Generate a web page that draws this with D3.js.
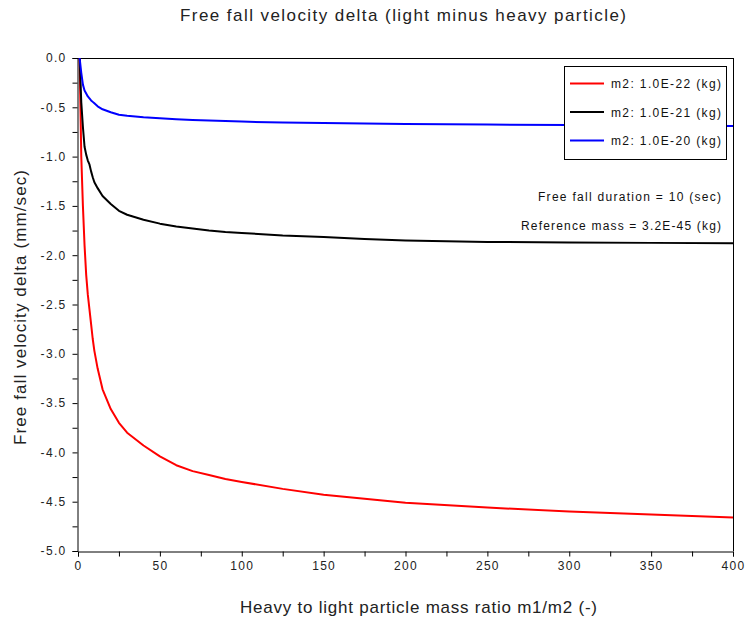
<!DOCTYPE html>
<html>
<head>
<meta charset="utf-8">
<script src="https://cdn.jsdelivr.net/npm/d3@7"></script>
<style>
  html, body { margin: 0; padding: 0; background: #fff; }
  svg { display: block; font-family: "Liberation Sans", Arial, sans-serif; }
</style>
</head>
<body>
<svg id="chart" width="745" height="627"></svg>
<script>
// ---- data ----
const ratio = [1, 2, 3, 4, 5, 6, 7, 8, 9, 10, 12, 15, 20, 25, 30, 40, 50, 60, 70, 80, 90, 100, 125, 150, 175, 200, 250, 300, 350, 400];
const deltaM22 = [0, -1.0, -1.5, -1.9, -2.2, -2.4, -2.55, -2.7, -2.85, -2.97, -3.15, -3.36, -3.56, -3.70, -3.80, -3.93, -4.04, -4.13, -4.19, -4.23, -4.27, -4.30, -4.37, -4.43, -4.47, -4.51, -4.56, -4.60, -4.63, -4.66];
const deltaM21 = [0, -0.45, -0.7, -0.9, -0.98, -1.04, -1.08, -1.15, -1.21, -1.26, -1.32, -1.40, -1.48, -1.55, -1.59, -1.64, -1.68, -1.71, -1.73, -1.75, -1.765, -1.775, -1.80, -1.815, -1.835, -1.85, -1.865, -1.87, -1.875, -1.88];
const deltaM20 = [0, -0.15, -0.27, -0.33, -0.36, -0.39, -0.41, -0.43, -0.445, -0.46, -0.49, -0.52, -0.55, -0.575, -0.585, -0.60, -0.61, -0.62, -0.628, -0.635, -0.64, -0.645, -0.655, -0.66, -0.665, -0.67, -0.675, -0.68, -0.685, -0.69];
const seriesNames = ["m2: 1.0E-22 (kg)", "m2: 1.0E-21 (kg)", "m2: 1.0E-20 (kg)"];
const seriesColors = ["#ff0000", "#000000", "#0000ff"];
const xTicks = [0, 50, 100, 150, 200, 250, 300, 350, 400];
const xMinorTicks = [25, 75, 125, 175, 225, 275, 325, 375];
const yTicks = [0, -0.5, -1.0, -1.5, -2.0, -2.5, -3.0, -3.5, -4.0, -4.5, -5.0];
const yMinorTicks = [-0.25, -0.75, -1.25, -1.75, -2.25, -2.75, -3.25, -3.75, -4.25, -4.75];
const titleText = "Free fall velocity delta (light minus heavy particle)";
const xLabelText = "Heavy to light particle mass ratio m1/m2 (-)";
const yLabelText = "Free fall velocity delta (mm/sec)";
const notes = ["Free fall duration = 10 (sec)", "Reference mass = 3.2E-45 (kg)"];

// ---- layout ----
const svg = d3.select("#chart");
const L = 78, R = 733, T = 58, B = 551;
const x = d3.scaleLinear().domain([0, 400]).range([L, R]);
const y = d3.scaleLinear().domain([-5, 0]).range([B, T]);
const fmt = v => d3.format(".1f")(v).replace("\u2212", "-");

// frame (top and right)
svg.append("line").attr("x1", L).attr("x2", R).attr("y1", T + 0.5).attr("y2", T + 0.5)
  .attr("stroke", "#000").attr("stroke-width", 1);
svg.append("line").attr("x1", R + 0.5).attr("x2", R + 0.5).attr("y1", T).attr("y2", B)
  .attr("stroke", "#000").attr("stroke-width", 1);

// axes
const xAxis = d3.axisBottom(x).tickValues(xTicks).tickFormat(d3.format("d")).tickSize(5).tickPadding(5);
const gx = svg.append("g").attr("transform", `translate(0,${B + 0.5})`).call(xAxis);
const xMinor = d3.axisBottom(x).tickValues(xMinorTicks).tickFormat("").tickSize(5);
svg.append("g").attr("transform", `translate(0,${B + 0.5})`).call(xMinor).select(".domain").remove();

const yAxis = d3.axisLeft(y).tickValues(yTicks).tickFormat(fmt).tickSize(5).tickPadding(6);
const gy = svg.append("g").attr("transform", `translate(${L - 0.5},0)`).call(yAxis);
const yMinor = d3.axisLeft(y).tickValues(yMinorTicks).tickFormat("").tickSize(5);
svg.append("g").attr("transform", `translate(${L - 0.5},0)`).call(yMinor).select(".domain").remove();

svg.selectAll(".tick text").attr("font-size", 12).attr("fill", "#222")
  .attr("letter-spacing", 1.3)
  .attr("font-family", "'Liberation Sans', Arial, sans-serif");
svg.selectAll(".domain").attr("stroke-width", 1);

// series
const series = [deltaM22, deltaM21, deltaM20];
const line = d3.line().x((d, i) => x(ratio[i])).y(d => y(d));
series.forEach((vals, k) => {
  svg.append("path").datum(vals).attr("d", line)
    .attr("fill", "none").attr("stroke", seriesColors[k]).attr("stroke-width", 2)
    .attr("stroke-linejoin", "round");
});

// helper: stretch text to the width seen in the reference
function fit(sel, w) { sel.attr("textLength", w).attr("lengthAdjust", "spacing"); return sel; }

// title and axis labels
fit(svg.append("text").attr("x", 403).attr("y", 21).attr("text-anchor", "middle")
  .attr("font-size", 17).attr("fill", "#222").text(titleText), 446);
fit(svg.append("text").attr("x", 418.5).attr("y", 613).attr("text-anchor", "middle")
  .attr("font-size", 17).attr("fill", "#222").text(xLabelText), 357);
fit(svg.append("text").attr("transform", "translate(26,307.5) rotate(-90)").attr("text-anchor", "middle")
  .attr("font-size", 17).attr("fill", "#222").text(yLabelText), 275);

// legend
const lg = svg.append("g");
lg.append("rect").attr("x", 564.5).attr("y", 66.5).attr("width", 162).attr("height", 93)
  .attr("fill", "#fff").attr("stroke", "#000").attr("stroke-width", 1);
const legendY = d3.scalePoint().domain(seriesNames).range([83.5, 140.5]);
seriesNames.forEach((name, k) => {
  lg.append("line").attr("x1", 570).attr("x2", 604).attr("y1", legendY(name)).attr("y2", legendY(name))
    .attr("stroke", seriesColors[k]).attr("stroke-width", 2);
  fit(lg.append("text").attr("x", 611).attr("y", legendY(name) + 4.5).attr("font-size", 12)
    .attr("fill", "#111").text(name), 110);
});

// annotations
const noteW = [183, 200];
notes.forEach((t, k) => {
  fit(svg.append("text").attr("x", 721 - noteW[k]).attr("y", 201 + k * 28.5)
    .attr("font-size", 12).attr("fill", "#111").text(t), noteW[k]);
});
</script>
</body>
</html>
